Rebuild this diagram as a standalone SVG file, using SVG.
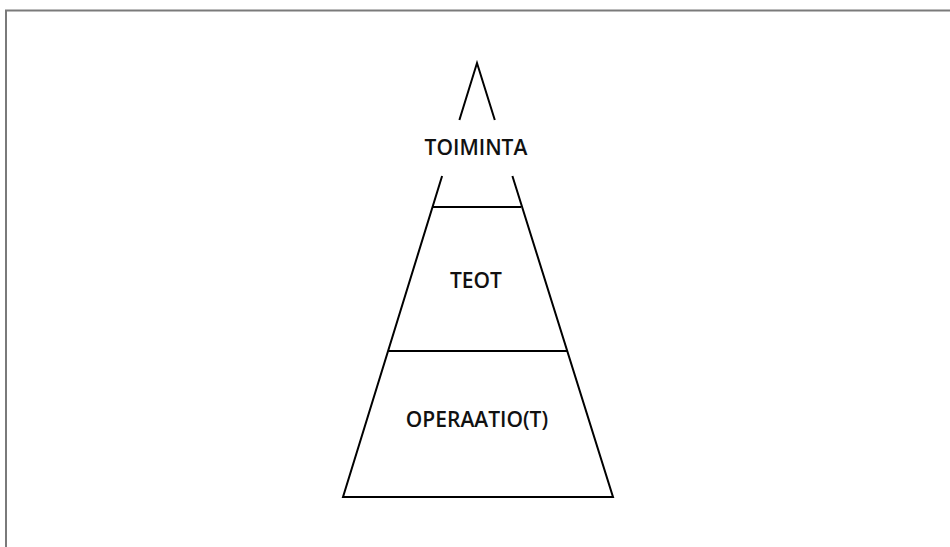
<svg xmlns="http://www.w3.org/2000/svg" width="950" height="547" viewBox="0 0 950 547">
  <style>
    .frame { stroke: #7a7a7a; stroke-width: 2; fill: none; }
    .edge { stroke: #000; stroke-width: 2; fill: none; stroke-linecap: butt; }
    .label { font-family: "Open Sans", "Liberation Sans", sans-serif; font-weight: 600; font-size: 21px; fill: #111; text-anchor: middle; }
  </style>
  <rect width="950" height="547" fill="#fff"/>
  <!-- page frame: top and left edges -->
  <path class="frame" d="M6,547 V10.5 H950"/>
  <!-- pyramid outline -->
  <g id="connectors">
    <path class="edge" d="M459.4,120 L477,63 L494.8,120"/>
    <path class="edge" d="M442.1,176 L343,497 H613 L512.4,176"/>
  </g>
  <g id="toiminta">
    <text class="label" x="476" y="155">TOIMINTA</text>
  </g>
  <g id="teot">
    <path class="edge" d="M433,207 H521"/>
    <text class="label" x="476" y="288">TEOT</text>
  </g>
  <g id="operaatiot">
    <path class="edge" d="M388.5,351 H567.5"/>
    <text class="label" x="477" y="427">OPERAATIO(T)</text>
  </g>
</svg>
